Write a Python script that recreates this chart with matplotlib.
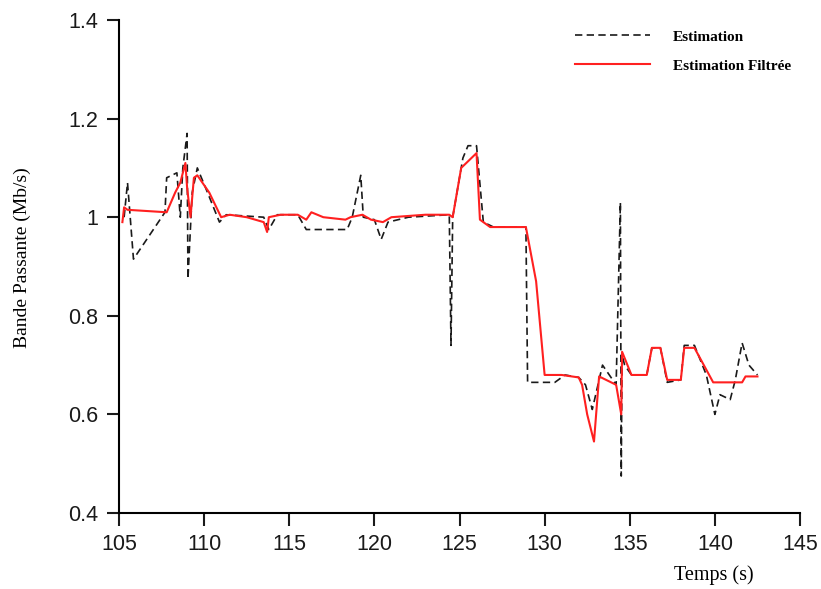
import matplotlib
matplotlib.use('Agg')
import matplotlib.pyplot as plt
import numpy as np

plt.rcParams.update({
    'font.family': ['Liberation Sans', 'DejaVu Sans'],
    'axes.linewidth': 1.5,
})

# ── Data ──────────────────────────────────────────────────────────────
# raw estimate (dashed black)
est_t = [105.3, 105.5, 105.85, 107.7, 107.8, 108.4, 108.6, 108.75, 109.0,
         109.05, 109.3, 109.6, 110.2, 110.9, 111.3, 113.5, 113.8, 114.3,
         115.5, 116.0, 116.5, 118.4, 118.7, 119.2, 119.35, 120.0, 120.4,
         120.8, 122.0, 124.4, 124.5, 124.6, 125.2, 125.5, 126.0, 126.4,
         127.0, 128.9, 129.0, 130.6, 131.2, 132.0, 132.4, 132.8, 133.4,
         134.2, 134.45, 134.5, 134.55, 134.7, 135.1, 136.0, 136.3, 136.8,
         137.2, 138.0, 138.2, 138.8, 139.5, 140.0, 140.3, 140.9, 141.2,
         141.6, 142.0, 142.5]
est_v = [1.00, 1.07, 0.915, 1.01, 1.08, 1.09, 1.00, 1.10, 1.17,
         0.875, 1.05, 1.10, 1.05, 0.99, 1.005, 1.00, 0.975, 1.005,
         1.005, 0.975, 0.975, 0.975, 1.00, 1.085, 1.00, 0.995, 0.955,
         0.99, 1.00, 1.005, 0.74, 1.00, 1.12, 1.145, 1.145, 0.99,
         0.98, 0.98, 0.665, 0.665, 0.68, 0.675, 0.66, 0.61, 0.70,
         0.66, 1.03, 0.475, 0.72, 0.70, 0.68, 0.68, 0.735, 0.735,
         0.665, 0.67, 0.74, 0.74, 0.68, 0.60, 0.64, 0.63, 0.67,
         0.745, 0.70, 0.68]

# filtered estimate (red)
filt_t = [105.2, 105.3, 105.5, 107.8, 108.3, 108.6, 108.9, 109.0, 109.2,
          109.4, 109.6, 110.3, 111.0, 111.5, 112.5, 113.5, 113.7, 113.8,
          114.5, 115.5, 116.0, 116.3, 117.0, 118.3, 118.6, 119.3, 119.8,
          120.5, 121.0, 123.0, 124.4, 124.6, 125.1, 126.0, 126.2, 126.8,
          128.9, 129.5, 130.0, 131.0, 132.0, 132.2, 132.5, 132.9, 133.2,
          134.2, 134.5, 134.55, 135.1, 136.0, 136.3, 136.8, 137.2, 138.0,
          138.2, 138.8, 139.9, 141.6, 141.8, 142.5]
filt_v = [0.99, 1.02, 1.015, 1.01, 1.05, 1.07, 1.11, 1.06, 1.00,
          1.08, 1.085, 1.05, 1.00, 1.005, 1.00, 0.99, 0.97, 1.00,
          1.005, 1.005, 0.995, 1.01, 1.00, 0.995, 1.00, 1.005, 0.995,
          0.99, 1.00, 1.005, 1.005, 1.00, 1.10, 1.13, 0.995, 0.98,
          0.98, 0.87, 0.68, 0.68, 0.675, 0.66, 0.60, 0.545, 0.677,
          0.66, 0.60, 0.727, 0.68, 0.68, 0.735, 0.735, 0.67, 0.67,
          0.735, 0.735, 0.665, 0.665, 0.677, 0.677]

x_ticks = [105, 110, 115, 120, 125, 130, 135, 140, 145]
y_ticks = [0.4, 0.6, 0.8, 1.0, 1.2, 1.4]
y_tick_labels = ['0.4', '0.6', '0.8', '1', '1.2', '1.4']

fig = plt.figure(figsize=(8.21, 5.89), dpi=100)
ax = fig.add_axes([119 / 821, 1 - 513 / 589, 681 / 821, 493 / 589])

est_line, = ax.plot(est_t, est_v, color='#1a1a1a', lw=1.2,
                    label='Estimation')
est_line.set_dashes((4.4, 2.6))
ax.plot(filt_t, filt_v, color='#ff2020', lw=1.5,
        label='Estimation Filtrée')

ax.set_xlim(105, 145)
ax.set_ylim(0.4, 1.4)
ax.set_xticks(x_ticks)
ax.set_yticks(y_ticks)
ax.set_yticklabels(y_tick_labels)
ax.tick_params(direction='out', length=9, width=1.5, labelsize=15.5,
               colors='#1a1a1a', pad=6)
ax.spines['top'].set_visible(False)
ax.spines['right'].set_visible(False)

serif = ['Liberation Serif', 'DejaVu Serif']
fig.text(22 / 821, 1 - 258 / 589, 'Bande Passante (Mb/s)', rotation=90,
         ha='center', va='center', fontsize=14, family=serif)
fig.text(714 / 821, 1 - 575 / 589, 'Temps (s)', ha='center', va='center',
         fontsize=14.5, family=serif)

ax.legend(loc='upper left', bbox_to_anchor=(575 / 821, 1 - 30 / 589),
          bbox_transform=fig.transFigure, frameon=False, borderpad=0,
          borderaxespad=0, handlelength=4.9, handletextpad=1.5,
          labelspacing=1.0,
          prop={'family': serif, 'weight': 'bold', 'size': 11})

fig.savefig('out.png', dpi=100, facecolor='white')
plt.close()
